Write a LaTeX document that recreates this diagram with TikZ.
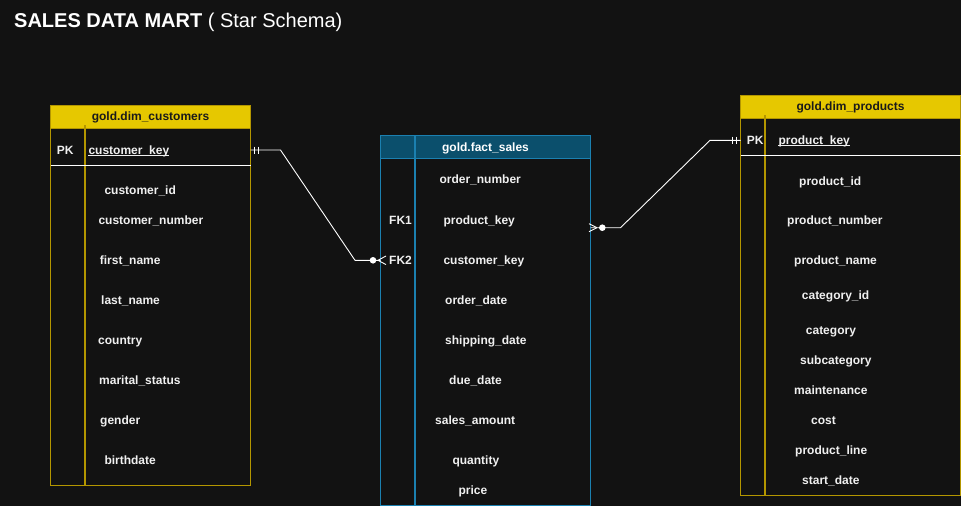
\documentclass[tikz,border=0pt]{standalone}
\usepackage{fontspec}
\setmainfont{Liberation Sans}
\definecolor{bg}{HTML}{121212}
\definecolor{goldfill}{HTML}{E6C800}
\definecolor{goldline}{HTML}{B39600}
\definecolor{factfill}{HTML}{0B4F6C}
\definecolor{factline}{HTML}{1B80B0}
\definecolor{txt}{HTML}{F0F0F0}
\definecolor{hdrtxt}{HTML}{1A1A1A}
\begin{document}
\begin{tikzpicture}[x=1pt,y=-1pt,
  fld/.style={anchor=base west, inner sep=0pt, text=txt, font=\bfseries\fontsize{12}{14}\selectfont},
  hdr/.style={anchor=base, inner sep=0pt, font=\bfseries\fontsize{12}{14}\selectfont},
  tablebox/.style={anchor=north west, inner sep=0pt, outer sep=0pt, line width=1pt, fill=bg},
  hdrbox/.style={anchor=north west, inner sep=0pt, outer sep=0pt, line width=1pt},
  sepline/.style={line width=1.5pt},
  conn/.style={draw=white, line width=0.9pt},
  ulin/.style={draw=txt, line width=0.9pt},
]
\useasboundingbox (0,0) rectangle (961,506);
\fill[bg] (0,0) rectangle (961,506);

% title
\node[anchor=base west, inner sep=0pt, text=white, font=\fontsize{20}{23}\selectfont] (title) at (14,27.8) {\textbf{SALES DATA MART} ( Star Schema)};

% ---------- customers ----------
\node[tablebox, draw=goldline, minimum width=200pt, minimum height=380pt] (cust) at (50.5,105.5) {};
\node[hdrbox, fill=goldfill, draw=goldline, minimum width=200pt, minimum height=23pt] (custhdr) at (50.5,105.5) {};
\draw[goldline, sepline] (85,125) -- (85,485.5);
\draw[white, line width=1pt] (50.5,165.5) -- (250.5,165.5);
\node[hdr, text=hdrtxt] (custtitle) at (150.5,120) {gold.dim\_customers};
\node[fld] (cpk) at (56.7,154.3) {PK};
\node[fld] (ck) at (88.3,154) {customer\_key};
\draw[ulin] ([yshift=-1.2pt]ck.base west) -- ([yshift=-1.2pt]ck.base east);
\node[fld] (c1) at (104.3,194) {customer\_id};
\node[fld] (c2) at (98.3,224) {customer\_number};
\node[fld] (c3) at (99.7,264.3) {first\_name};
\node[fld] (c4) at (101,304.3) {last\_name};
\node[fld] (c5) at (98,344) {country};
\node[fld] (c6) at (99,384) {marital\_status};
\node[fld] (c7) at (100,424) {gender};
\node[fld] (c8) at (104.3,464) {birthdate};

% ---------- fact ----------
\node[tablebox, draw=factline, minimum width=210pt, minimum height=370pt] (fact) at (380.5,135.5) {};
\node[hdrbox, fill=factfill, draw=factline, minimum width=210pt, minimum height=23pt] (facthdr) at (380.5,135.5) {};
\draw[factline, sepline] (415,135.5) -- (415,505.5);
\node[hdr, text=white] (facttitle) at (485.5,151) {gold.fact\_sales};
\node[fld] (f1) at (439.3,183.7) {order\_number};
\node[fld] (fk1) at (389,224) {FK1};
\node[fld] (f2) at (443.3,224) {product\_key};
\node[fld] (fk2) at (389,264) {FK2};
\node[fld] (f3) at (443.3,264) {customer\_key};
\node[fld] (f4) at (445,304) {order\_date};
\node[fld] (f5) at (445,344) {shipping\_date};
\node[fld] (f6) at (449,384) {due\_date};
\node[fld] (f7) at (435,424) {sales\_amount};
\node[fld] (f8) at (452.3,464) {quantity};
\node[fld] (f9) at (458.3,494) {price};

% ---------- products ----------
\node[tablebox, draw=goldline, minimum width=220pt, minimum height=400pt] (prod) at (740.5,95.5) {};
\node[hdrbox, fill=goldfill, draw=goldline, minimum width=220pt, minimum height=23pt] (prodhdr) at (740.5,95.5) {};
\draw[goldline, sepline] (765,115) -- (765,495.5);
\draw[white, line width=1pt] (740.5,155.5) -- (960.5,155.5);
\node[hdr, text=hdrtxt] (prodtitle) at (850.5,110.7) {gold.dim\_products};
\node[fld] (ppk) at (746.7,144) {PK};
\node[fld] (pk) at (778.3,144) {product\_key};
\draw[ulin] ([yshift=-1.2pt]pk.base west) -- ([yshift=-1.2pt]pk.base east);
\node[fld] (p1) at (799,185) {product\_id};
\node[fld] (p2) at (787,224) {product\_number};
\node[fld] (p3) at (794,264) {product\_name};
\node[fld] (p4) at (801.7,299) {category\_id};
\node[fld] (p5) at (805.7,334) {category};
\node[fld] (p6) at (800,364) {subcategory};
\node[fld] (p7) at (794,394) {maintenance};
\node[fld] (p8) at (811,424) {cost};
\node[fld] (p9) at (795,454) {product\_line};
\node[fld] (p10) at (802,484) {start\_date};

% ---------- connector customers -> fact ----------
\coordinate (ca) at (250.5,150);
\coordinate (cb) at (280.5,150);
\coordinate (cc) at (355,260.3);
\coordinate (cd) at (380.5,260.3);
\coordinate (cfoot) at (378,260.3);
\draw[conn] (ca) -- (cb) -- (cc) -- (cd);
\draw[conn] ([xshift=4pt,yshift=3.5pt]ca) -- ([xshift=4pt,yshift=-3.5pt]ca);
\draw[conn] ([xshift=7.5pt,yshift=3.5pt]ca) -- ([xshift=7.5pt,yshift=-3.5pt]ca);
\fill[white] (373,260.3) circle[radius=3.3pt];
\draw[conn] (cfoot) -- ([xshift=8pt,yshift=4.3pt]cfoot);
\draw[conn] (cfoot) -- ([xshift=8pt,yshift=-4.3pt]cfoot);

% ---------- connector fact -> products ----------
\coordinate (pa) at (590.5,227.7);
\coordinate (pb) at (620.5,227.7);
\coordinate (pc) at (710,140.3);
\coordinate (pd) at (740.5,140.3);
\coordinate (pfoot) at (597,227.7);
\draw[conn] (pa) -- (pb) -- (pc) -- (pd);
\draw[conn] ([xshift=-8pt,yshift=3.8pt]pd) -- ([xshift=-8pt,yshift=-3.8pt]pd);
\draw[conn] ([xshift=-4.5pt,yshift=3.8pt]pd) -- ([xshift=-4.5pt,yshift=-3.8pt]pd);
\fill[white] (602.3,227.7) circle[radius=3.3pt];
\draw[conn] (pfoot) -- ([xshift=-8pt,yshift=4pt]pfoot);
\draw[conn] (pfoot) -- ([xshift=-8pt,yshift=-4pt]pfoot);
\end{tikzpicture}
\end{document}
